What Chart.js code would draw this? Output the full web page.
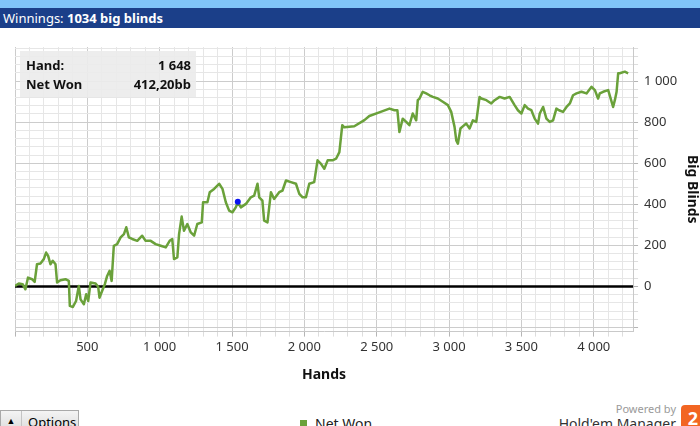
<!DOCTYPE html>
<html>
<head>
<meta charset="utf-8">
<script src="https://cdn.jsdelivr.net/npm/chart.js@4"></script>
<style>
    body { margin: 0; width: 700px; height: 426px; overflow: hidden; background: #fff; font-family: "Noto Sans", sans-serif; position: relative; }
    #topStrip { position: absolute; left: 0; top: 0; width: 700px; height: 8px; background: #80c4f8; }
    #header { position: absolute; left: 0; top: 8px; width: 700px; height: 20px; background: #1b3f89; color: #fff; font-size: 13px; line-height: 20px; padding-left: 3px; box-sizing: border-box; }
    #header b { font-weight: bold; }
    #wrap { position: absolute; left: 0; top: 28px; width: 700px; height: 359px; }
    #infoBox { position: absolute; left: 20px; top: 51px; width: 176px; height: 46px; background: rgba(235,235,235,0.92); font-size: 13px; font-weight: bold; color: #111; }
    #infoBox div { position: absolute; left: 6px; right: 5px; height: 18px; }
    #infoBox span { position: absolute; right: 0; }
    #options { position: absolute; left: 0; top: 410px; width: 79px; height: 22px; border: 1px solid #a9a9a9; background: linear-gradient(#f4f4f4, #dcdcdc); font-size: 13px; box-sizing: border-box; }
    #options .arrow { position: absolute; left: 0; top: 0; width: 20px; height: 20px; border-right: 1px solid #c4c4c4; font-size: 9px; text-align: center; line-height: 20px; }
    #options .txt { position: absolute; left: 27px; top: 2px; }
    #legend { position: absolute; left: 300px; top: 414px; font-size: 14px; color: #222; }
    #legend i { display: inline-block; width: 7px; height: 7px; background: #6aa13a; margin-right: 8px; vertical-align: 2px; }
    #powered { position: absolute; right: 24px; top: 402px; font-size: 11px; line-height: 13px; color: #9a9a9a; }
    #hem { position: absolute; right: 24px; top: 415px; font-size: 14px; line-height: 17px; color: #333; }
    #logo { position: absolute; left: 681px; top: 405px; width: 24px; height: 24px; background: #f26522; border-radius: 4px; color: #fff; font-weight: bold; font-size: 18px; text-align: center; line-height: 26px; }
</style>
</head>
<body>
<div id="topStrip"></div>
<div id="header">Winnings: <b>1034 big blinds</b></div>
<div id="wrap"><canvas id="lineChart" width="700" height="359"></canvas></div>
<div id="infoBox">
    <div style="top:5px">Hand:<span>1 648</span></div>
    <div style="top:24px">Net Won<span>412,20bb</span></div>
</div>
<div id="options"><div class="arrow">&#9650;</div><div class="txt">Options</div></div>
<div id="legend"><i></i>Net Won</div>
<div id="powered">Powered by</div>
<div id="hem">Hold'em Manager</div>
<div id="logo">2</div>

<script>
// hand number and cumulative net won (big blinds)
const hands = [0, 26, 53, 72, 90, 118, 136, 152, 176, 199, 215, 229, 245, 261, 280, 291, 314, 349, 372, 379,
    400, 422, 441, 453, 476, 492, 506, 522, 557, 575, 584, 602, 621, 637, 654, 668, 683, 706, 730, 753,
    769, 787, 810, 845, 879, 903, 938, 972, 1007, 1042, 1069, 1087, 1099, 1122, 1134, 1152, 1168, 1191, 1215, 1238,
    1260, 1291, 1300, 1330, 1346, 1376, 1411, 1434, 1457, 1480, 1503, 1526, 1540, 1561, 1596, 1630, 1653, 1676, 1688, 1710,
    1722, 1745, 1769, 1791, 1826, 1849, 1873, 1907, 1942, 1965, 1988, 2011, 2034, 2068, 2091, 2115, 2138, 2161, 2195, 2219,
    2242, 2262, 2276, 2345, 2415, 2449, 2518, 2588, 2623, 2643, 2657, 2680, 2704, 2726, 2749, 2773, 2784, 2796, 2818, 2842,
    2865, 2888, 2922, 2957, 2992, 3015, 3038, 3050, 3061, 3079, 3091, 3119, 3142, 3165, 3188, 3211, 3223, 3258, 3292, 3315,
    3350, 3384, 3419, 3453, 3476, 3500, 3523, 3546, 3569, 3592, 3615, 3627, 3650, 3673, 3696, 3719, 3742, 3760, 3788, 3812,
    3835, 3857, 3881, 3915, 3950, 3985, 4008, 4030, 4042, 4065, 4100, 4134, 4146, 4158, 4169, 4180, 4215, 4238, 4272];
const netWon = [2, 14, 11, -14, 43, 35, 22, 108, 112, 133, 165, 149, 108, 125, 108, 19, 30, 35, 27, -95,
    -100, -71, 2, -63, -87, -38, -71, 19, 14, -2, -55, -22, 11, 51, 76, 27, 198, 206, 239, 255,
    288, 239, 231, 222, 247, 222, 222, 206, 198, 190, 222, 231, 133, 141, 255, 340, 271, 304, 263, 247,
    304, 312, 410, 410, 459, 475, 500, 475, 410, 369, 361, 385, 410, 385, 402, 434, 442, 500, 434, 418,
    320, 312, 459, 426, 459, 467, 516, 508, 500, 451, 434, 434, 500, 508, 614, 597, 573, 614, 614, 622,
    654, 785, 775, 780, 810, 830, 848, 866, 858, 858, 752, 817, 801, 785, 842, 809, 907, 915, 948, 940,
    931, 923, 915, 899, 883, 850, 777, 711, 695, 769, 777, 793, 769, 809, 801, 923, 915, 907, 891, 907,
    923, 915, 923, 883, 858, 842, 883, 866, 858, 817, 793, 842, 874, 817, 801, 809, 866, 858, 850, 874,
    891, 931, 940, 948, 940, 972, 956, 915, 940, 948, 956, 874, 907, 948, 1038, 1038, 1046, 1038];

// hovered point shown by the graph
const hoverHand = 1540;
const hoverValue = 412;

const fmt = (v) => String(Math.abs(v)).replace(/\B(?=(\d{3})+(?!\d))/g, " ");
const fontFamily = "'Noto Sans', sans-serif";

new Chart(document.getElementById("lineChart"), {
    type: "line",
    data: {
        datasets: [
            {
                label: "Net Won",
                data: hands.map((h, i) => ({ x: h, y: netWon[i] })),
                borderColor: "#6aa13a",
                borderWidth: 2.5,
                borderJoinStyle: "round",
                pointRadius: 0,
                tension: 0,
                order: 1,
            },
            {
                label: "hover",
                data: [{ x: hoverHand, y: hoverValue }],
                pointRadius: 3,
                pointBackgroundColor: "#0a14f0",
                pointBorderWidth: 0,
                showLine: false,
                order: 0,
            },
        ],
    },
    options: {
        responsive: false,
        animation: false,
        maintainAspectRatio: false,
        layout: { padding: { left: 15, top: 19, right: -1, bottom: 0 } },
        plugins: { legend: { display: false }, tooltip: { enabled: false } },
        scales: {
            x: {
                type: "linear",
                min: 0,
                max: 4272,
                border: { color: "#c9c9c9" },
                grid: {
                    color: (c) => (c.tick && c.tick.value % 500 === 0 ? "#cccccc" : "#e6e6e6"),
                    tickColor: (c) => (c.tick && c.tick.value % 500 === 0 ? "#b5b5b5" : "#dddddd"),
                    tickLength: 5,
                },
                ticks: {
                    stepSize: 100,
                    includeBounds: false,
                    autoSkip: false,
                    maxRotation: 0,
                    color: "#333",
                    font: { family: fontFamily, size: 13 },
                    callback: (v) => (v % 500 === 0 && v > 0 ? fmt(v) : ""),
                },
                title: { display: true, text: "Hands", color: "#111", font: { family: fontFamily, size: 14, weight: "bold" }, padding: { top: 8 } },
            },
            y: {
                position: "right",
                min: -220,
                max: 1166,
                border: { color: "#c9c9c9" },
                grid: {
                    color: (c) => (c.tick && c.tick.value % 200 === 0 ? "#cccccc" : "#e6e6e6"),
                    tickColor: (c) => (c.tick && c.tick.value % 200 === 0 ? "#b5b5b5" : "#dddddd"),
                    tickLength: 5,
                },
                ticks: {
                    stepSize: 40,
                    includeBounds: false,
                    autoSkip: false,
                    color: "#333",
                    padding: 6,
                    font: { family: fontFamily, size: 13 },
                    callback: (v) => (v % 200 === 0 && v >= 0 ? fmt(v) : ""),
                },
                title: { display: true, text: "Big Blinds", color: "#111", font: { family: fontFamily, size: 14, weight: "bold" }, padding: { top: 1, bottom: 0 } },
            },
        },
    },
    plugins: [{
        // zero line drawn above the grid
        id: "zeroLine",
        beforeDatasetsDraw(chart) {
            const { ctx, chartArea, scales } = chart;
            const y = scales.y.getPixelForValue(0);
            ctx.save();
            ctx.strokeStyle = "#000";
            ctx.lineWidth = 2.5;
            ctx.beginPath();
            ctx.moveTo(chartArea.left, y);
            ctx.lineTo(chartArea.right, y);
            ctx.stroke();
            ctx.restore();
        },
    }],
});
</script>
</body>
</html>
